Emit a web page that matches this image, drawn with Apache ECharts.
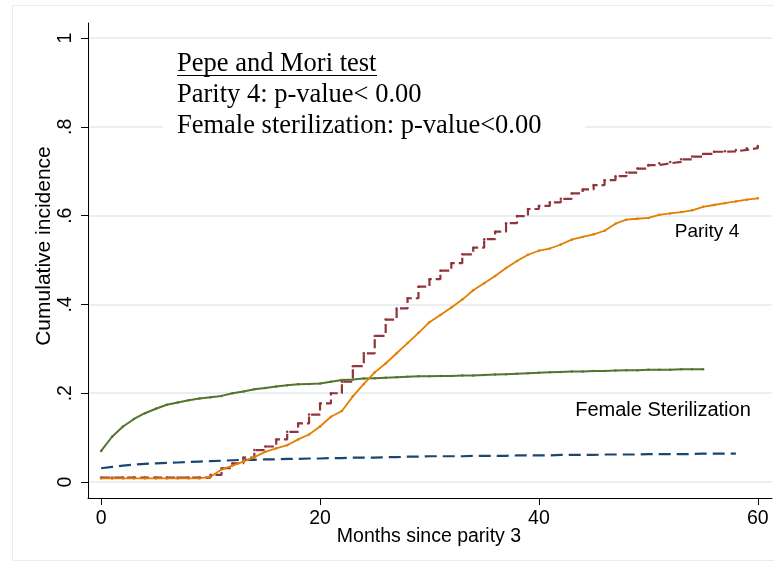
<!DOCTYPE html>
<html><head><meta charset="utf-8">
<script src="https://cdn.jsdelivr.net/npm/echarts@6/dist/echarts.min.js"></script>
<style>html,body{margin:0;padding:0;background:#fff}#c{width:774px;height:569px}</style>
</head><body><div id="c"></div>
<script>
const months = [0,1,2,3,4,5,6,7,8,9,10,11,12,13,14,15,16,17,18,19,20,21,22,23,24,25,26,27,28,29,30,31,32,33,34,35,36,37,38,39,40,41,42,43,44,45,46,47,48,49,50,51,52,53,54,55,56,57,58,59,60];
// Parity 4 (orange, smooth)
const parity4Orange = [0.008,0.008,0.008,0.008,0.008,0.008,0.008,0.008,0.008,0.008,0.012,0.028,0.037,0.046,0.056,0.068,0.076,0.083,0.096,0.107,0.125,0.147,0.160,0.193,0.221,0.247,0.267,0.290,0.313,0.336,0.360,0.376,0.393,0.411,0.432,0.448,0.464,0.482,0.498,0.512,0.521,0.526,0.535,0.546,0.552,0.558,0.566,0.582,0.591,0.593,0.595,0.602,0.605,0.608,0.612,0.620,0.624,0.628,0.632,0.636,0.639];
// Parity 4 (maroon, stepped dashed)
const parity4Maroon = [0.010,0.010,0.010,0.010,0.010,0.010,0.010,0.010,0.010,0.010,0.016,0.031,0.042,0.055,0.072,0.080,0.096,0.113,0.132,0.152,0.177,0.200,0.226,0.261,0.290,0.329,0.366,0.391,0.414,0.440,0.457,0.476,0.493,0.513,0.528,0.547,0.564,0.583,0.599,0.615,0.622,0.630,0.638,0.650,0.659,0.669,0.680,0.689,0.697,0.706,0.714,0.718,0.721,0.727,0.733,0.739,0.744,0.745,0.748,0.752,0.757];
// Female sterilization (green, solid) months 0-55
const sterilGreen = [0.070,0.102,0.125,0.142,0.155,0.165,0.174,0.179,0.184,0.188,0.191,0.194,0.200,0.204,0.209,0.212,0.215,0.218,0.220,0.221,0.222,0.226,0.230,0.231,0.233,0.234,0.235,0.236,0.237,0.238,0.238,0.239,0.239,0.240,0.240,0.241,0.242,0.243,0.244,0.245,0.246,0.247,0.248,0.249,0.249,0.250,0.250,0.251,0.252,0.252,0.253,0.253,0.253,0.254,0.254,0.254];
// Female sterilization (navy, dashed) months 0-58
const sterilNavy = [0.031,0.034,0.037,0.039,0.041,0.042,0.043,0.044,0.045,0.046,0.047,0.048,0.049,0.050,0.050,0.051,0.051,0.052,0.052,0.053,0.053,0.054,0.054,0.055,0.055,0.055,0.056,0.056,0.057,0.057,0.058,0.058,0.058,0.058,0.059,0.059,0.059,0.059,0.060,0.060,0.060,0.060,0.061,0.061,0.061,0.061,0.062,0.062,0.062,0.062,0.063,0.063,0.063,0.063,0.063,0.064,0.064,0.064,0.064];
const xTicks = [0,20,40,60];
const yTicks = [0,0.2,0.4,0.6,0.8,1];
const yTickLabels = ['0','.2','.4','.6','.8','1'];
const xTitle = 'Months since parity 3';
const yTitle = 'Cumulative incidence';
const noteLines = ['Pepe and Mori test','Parity 4: p-value< 0.00','Female sterilization: p-value<0.00'];
const labelParity = 'Parity 4';
const labelSteril = 'Female Sterilization';

function pairs(vals){ return vals.map((v,i)=>[months[i],v]); }

const sans = "'Liberation Sans', Arial, Helvetica, sans-serif";
const serif = "'Liberation Serif', 'Times New Roman', serif";

const chart = echarts.init(document.getElementById('c'), null, {renderer:'canvas'});
const lineBase = {type:'line', symbol:'circle', symbolSize:2.5, showSymbol:true, animation:false, silent:true};
chart.setOption({
  backgroundColor:'#fff',
  animation:false,
  grid:{left:88, right:2, top:23, bottom:71, containLabel:false},
  xAxis:{type:'value', min:-1.2, max:61.3,
    axisLine:{show:true, onZero:false, lineStyle:{color:'#000', width:1}},
    axisTick:{show:true, length:7, customValues:xTicks, lineStyle:{color:'#000'}},
    axisLabel:{customValues:xTicks, color:'#000', fontFamily:sans, fontSize:19.5, margin:11},
    splitLine:{show:false}},
  yAxis:{type:'value', min:-0.036, max:1.034,
    axisLine:{show:true, onZero:false, lineStyle:{color:'#000', width:1}},
    axisTick:{show:true, length:7, customValues:yTicks, lineStyle:{color:'#000'}},
    axisLabel:{customValues:yTicks, rotate:90, color:'#000', fontFamily:sans, fontSize:19.5, margin:12,
      formatter:(v)=>{const i=yTicks.findIndex(t=>Math.abs(t-v)<1e-6); return i>=0?yTickLabels[i]:'';}},
    splitLine:{show:true, lineStyle:{color:'#eaf0f2', width:2}}},
  series:[
    Object.assign({}, lineBase, {name:'navy', showSymbol:false, data:pairs(sterilNavy), itemStyle:{color:'#1a476f'}, lineStyle:{color:'#1a476f', width:2.2, type:[12,6]}}),
    Object.assign({}, lineBase, {name:'maroon', step:'end', data:pairs(parity4Maroon), itemStyle:{color:'#90353b'}, lineStyle:{color:'#90353b', width:2.2, type:[9,4]}}),
    Object.assign({}, lineBase, {name:'green', data:pairs(sterilGreen), itemStyle:{color:'#55752f'}, lineStyle:{color:'#55752f', width:2}}),
    Object.assign({}, lineBase, {name:'orange', data:pairs(parity4Orange), itemStyle:{color:'#e37e00'}, lineStyle:{color:'#e37e00', width:1.8}})
  ],
  graphic:[
    {type:'rect', z:-10, shape:{x:12.5,y:5.5,width:775,height:555}, style:{fill:'none', stroke:'#e8eef0', lineWidth:1}, silent:true},
    {type:'rect', z:50, shape:{x:163,y:44,width:422,height:98}, style:{fill:'#fff'}, silent:true},
    {type:'text', z:60, x:177, y:64, style:{text:noteLines[0], font:"26.5px "+serif, fill:'#000', verticalAlign:'middle'}},
    {type:'line', z:60, shape:{x1:177,y1:75.5,x2:377,y2:75.5}, style:{stroke:'#000', lineWidth:1}},
    {type:'text', z:60, x:177, y:95, style:{text:noteLines[1], font:"26.5px "+serif, fill:'#000', verticalAlign:'middle'}},
    {type:'text', z:60, x:177, y:126, style:{text:noteLines[2], font:"26.5px "+serif, fill:'#000', verticalAlign:'middle'}},
    {type:'text', z:60, x:707, y:232, style:{text:labelParity, font:"19px "+sans, fill:'#000', align:'center', verticalAlign:'middle'}},
    {type:'text', z:60, x:663, y:410, style:{text:labelSteril, font:"20px "+sans, fill:'#000', align:'center', verticalAlign:'middle'}},
    {type:'text', z:60, x:429, y:537, style:{text:xTitle, font:"19.5px "+sans, fill:'#000', align:'center', verticalAlign:'middle'}},
    {type:'text', z:60, x:44, y:246, rotation:Math.PI/2, style:{text:yTitle, font:"21px "+sans, fill:'#000', align:'center', verticalAlign:'middle'}}
  ]
});
</script></body></html>
